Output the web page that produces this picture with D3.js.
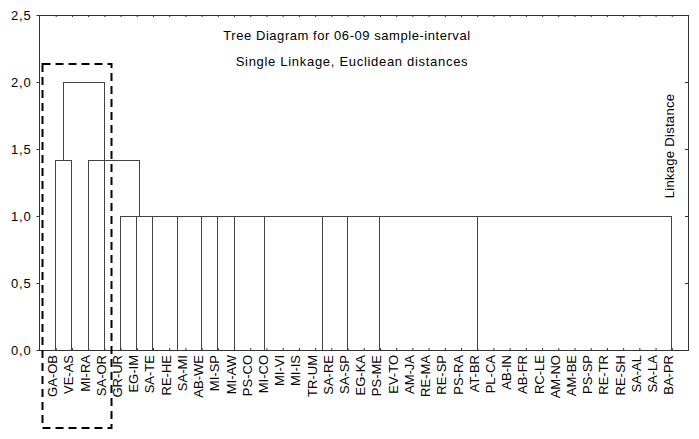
<!DOCTYPE html>
<html>
<head>
<meta charset="utf-8">
<script src="https://cdn.jsdelivr.net/npm/d3@7"></script>
<style>
  body { margin: 0; background: #fff; }
  svg { font-family: "Liberation Sans", Arial, sans-serif; }
  .tick text { fill: #000; }
  .tick line { stroke: #333; }
</style>
</head>
<body>
<svg id="chart" width="699" height="439"></svg>
<script>
// Leaf labels, left to right.
const leaves = ["GA-OB", "VE-AS", "MI-RA", "SA-OR", "GR-UR", "EG-IM", "SA-TE", "RE-HE", "SA-MI",
  "AB-WE", "MI-SP", "MI-AW", "PS-CO", "MI-CO", "MI-VI", "MI-IS", "TR-UM", "SA-RE", "SA-SP",
  "EG-KA", "PS-ME", "EV-TO", "AM-JA", "RE-MA", "RE-SP", "PS-RA", "AT-BR", "PL-CA", "AB-IN",
  "AB-FR", "RC-LE", "AM-NO", "AM-BE", "PS-SP", "RE-TR", "RE-SH", "SA-AL", "SA-LA", "BA-PR"];

const yTicks = [0, 0.5, 1, 1.5, 2, 2.5];

// Joins: [left position, right position, linkage distance, left base, right base]
// positions are in leaf units (0 = first leaf)
const joins = [
  [4, 5, 1.0, 0, 0],
  [5, 6, 1.0, 0, 0],
  [6, 7.5, 1.0, 0, 0],
  [7.5, 9, 1.0, 0, 0],
  [9, 10, 1.0, 0, 0],
  [10, 11, 1.0, 0, 0],
  [11, 12.9, 1.0, 0, 0],
  [12.9, 16.47, 1.0, 0, 0],
  [16.47, 18, 1.0, 0, 0],
  [18, 20, 1.0, 0, 0],
  [20, 26, 1.0, 0, 0],
  [26, 38, 1.0, 0, 0],
  [0, 1, 1.414, 0, 0],
  [2, 5.15, 1.414, 0, 1.0],
  [0.5, 3, 2.0, 1.414, 0]
];

const titleLines = ["Tree Diagram for 06-09 sample-interval", "Single Linkage, Euclidean distances"];

const svg = d3.select("#chart");

const x = d3.scaleLinear().domain([-1, 39]).range([39.5, 688]);
const y = d3.scaleLinear().domain([0, 2.5]).range([350, 15]);

const fmt = d => d3.format(".1f")(d).replace(".", ",");

// Left axis.
svg.append("g")
  .attr("transform", `translate(${x(-1)},0)`)
  .call(d3.axisLeft(y).tickValues(yTicks).tickSize(3).tickPadding(5).tickFormat(fmt))
  .call(g => g.select(".domain").remove())
  .selectAll("text")
    .style("font-size", "13px")
    .style("letter-spacing", "0.8px");

// Right axis, ticks only.
svg.append("g")
  .attr("transform", `translate(${x(39)},0)`)
  .call(d3.axisRight(y).tickValues(yTicks).tickSize(-3).tickFormat(""))
  .call(g => g.select(".domain").remove());

// Top axis, ticks only.
svg.append("g")
  .attr("transform", `translate(0,${y(2.5)})`)
  .call(d3.axisTop(x).tickValues(d3.range(leaves.length)).tickSize(-2).tickFormat(""))
  .call(g => g.select(".domain").remove());

// Bottom axis with rotated leaf labels.
svg.append("g")
  .attr("transform", `translate(0,${y(0)})`)
  .call(d3.axisBottom(x).tickValues(d3.range(leaves.length)).tickSize(-2).tickFormat(i => leaves[i]))
  .call(g => g.select(".domain").remove())
  .selectAll("text")
    .style("font-size", "13px")
    .attr("transform", "rotate(-90)")
    .attr("text-anchor", "end")
    .attr("x", -5)
    .attr("y", 1)
    .attr("dy", 0);

// Frame.
svg.append("rect")
  .attr("x", x(-1))
  .attr("y", y(2.5))
  .attr("width", x(39) - x(-1))
  .attr("height", y(0) - y(2.5))
  .attr("fill", "none")
  .attr("stroke", "#333")
  .attr("shape-rendering", "crispEdges");

// Dendrogram brackets.
svg.append("g")
  .selectAll("path")
  .data(joins)
  .join("path")
  .attr("d", d => `M${x(d[0])},${y(d[3])}V${y(d[2])}H${x(d[1])}V${y(d[4])}`)
  .attr("fill", "none")
  .attr("stroke", "#444")
  .attr("stroke-width", 1)
  .attr("shape-rendering", "crispEdges");

// Titles.
svg.selectAll(".title")
  .data(titleLines)
  .join("text")
  .attr("class", "title")
  .attr("x", (d, i) => i === 0 ? 347 : 352)
  .attr("y", (d, i) => i === 0 ? 40 : 66)
  .attr("text-anchor", "middle")
  .style("font-size", "13px")
  .style("letter-spacing", (d, i) => i === 0 ? "0.55px" : "0.7px")
  .attr("fill", "#000")
  .text(d => d);

// Y axis title.
svg.append("text")
  .attr("transform", "translate(674,146) rotate(-90)")
  .attr("text-anchor", "middle")
  .style("font-size", "13px")
  .style("letter-spacing", "0.3px")
  .attr("fill", "#000")
  .text("Linkage Distance");

// Dashed highlight box.
svg.append("rect")
  .attr("x", 42.5)
  .attr("y", 64)
  .attr("width", 69)
  .attr("height", 364)
  .attr("fill", "none")
  .attr("stroke", "#000")
  .attr("stroke-width", 2)
  .attr("stroke-dasharray", "8,5");
</script>
</body>
</html>
